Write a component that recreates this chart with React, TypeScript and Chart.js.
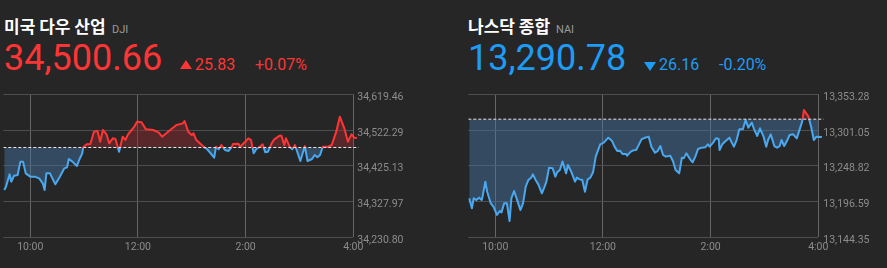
import React, { useEffect, useRef } from 'react';
import { Chart, registerables } from 'chart.js';

Chart.register(...registerables);

// ---------- data ----------
const SESSION_OPEN = '09:30';
const SESSION_CLOSE = '16:00';
const BASELINE_END = '16:06';

const X_TICK_TIMES = ['10:00', '12:00', '14:00', '16:00'];
const X_TICK_LABELS = ['10:00', '12:00', '2:00', '4:00'];

const DOW_NAME = '미국 다우 산업';
const DOW_CODE = 'DJI';
const DOW_PRICE = '34,500.66';
const DOW_CHANGE = '25.83';
const DOW_PCT = '+0.07%';
const DOW_PREV_CLOSE = 34474.83;
const DOW_Y_TICKS = [34230.8, 34327.97, 34425.13, 34522.29, 34619.46];
const DOW_TIMES = [
  '09:31', '09:33', '09:37', '09:39', '09:42', '09:46', '09:49', '09:52', '09:55', '10:00',
  '10:05', '10:10', '10:14', '10:16', '10:18', '10:22', '10:28', '10:33', '10:38', '10:41',
  '10:43', '10:47', '10:52', '10:55', '10:58', '10:59', '11:03', '11:07', '11:11', '11:15',
  '11:18', '11:21', '11:25', '11:28', '11:32', '11:35', '11:39', '11:43', '11:46', '11:49',
  '11:53', '11:56', '11:59', '12:04', '12:09', '12:17', '12:23', '12:27', '12:36', '12:43',
  '12:50', '12:52', '12:56', '13:00', '13:02', '13:05', '13:09', '13:14', '13:17', '13:22',
  '13:25', '13:27', '13:30', '13:33', '13:37', '13:41', '13:44', '13:46', '13:52', '13:54',
  '13:59', '14:03', '14:06', '14:09', '14:12', '14:16', '14:19', '14:22', '14:25', '14:29',
  '14:32', '14:38', '14:40', '14:43', '14:45', '14:49', '14:52', '14:55', '15:01', '15:03',
  '15:06', '15:09', '15:14', '15:17', '15:20', '15:23', '15:26', '15:32', '15:36', '15:41',
  '15:45', '15:50', '15:54', '15:58', '16:01', '16:04',
];
const DOW_VALUES = [
  34359.3, 34368.4, 34401.9, 34382.0, 34398.3, 34400.1, 34436.4, 34436.4, 34404.6, 34395.6,
  34395.6, 34391.1, 34377.5, 34359.3, 34404.6, 34404.6, 34374.8, 34395.6, 34418.2, 34421.0,
  34443.6, 34436.4, 34424.6, 34443.6, 34459.0, 34475.3, 34483.5, 34484.4, 34517.9, 34519.7,
  34490.7, 34522.4, 34510.7, 34486.2, 34499.8, 34498.0, 34463.5, 34504.3, 34495.3, 34510.7,
  34522.4, 34531.5, 34545.1, 34543.3, 34524.2, 34522.4, 34516.1, 34504.3, 34522.4, 34536.0,
  34540.5, 34546.9, 34517.9, 34508.8, 34513.4, 34495.3, 34486.2, 34475.3, 34470.8, 34456.3,
  34447.2, 34477.1, 34469.9, 34481.7, 34468.0, 34465.4, 34474.4, 34484.4, 34485.3, 34477.1,
  34488.9, 34499.8, 34495.3, 34459.0, 34470.8, 34477.1, 34483.5, 34461.7, 34463.5, 34486.2,
  34497.1, 34507.0, 34507.0, 34481.7, 34499.8, 34477.1, 34469.9, 34481.7, 34438.2, 34454.5,
  34478.9, 34438.2, 34443.6, 34454.5, 34448.2, 34454.5, 34477.1, 34477.1, 34481.7, 34517.9,
  34558.7, 34527.0, 34490.7, 34510.7, 34501.6, 34500.66,
];

const NAS_NAME = '나스닥 종합';
const NAS_CODE = 'NAI';
const NAS_PRICE = '13,290.78';
const NAS_CHANGE = '26.16';
const NAS_PCT = '-0.20%';
const NAS_PREV_CLOSE = 13316.94;
const NAS_Y_TICKS = [13144.35, 13196.59, 13248.82, 13301.05, 13353.28];
const NAS_TIMES = [
  '09:31', '09:34', '09:36', '09:39', '09:42', '09:45', '09:46', '09:49', '09:51', '09:55',
  '09:58', '10:02', '10:05', '10:07', '10:10', '10:13', '10:16', '10:18', '10:21', '10:25',
  '10:28', '10:31', '10:34', '10:37', '10:40', '10:42', '10:45', '10:48', '10:52', '10:55',
  '10:57', '11:00', '11:04', '11:07', '11:09', '11:12', '11:15', '11:19', '11:21', '11:25',
  '11:29', '11:31', '11:34', '11:37', '11:40', '11:43', '11:46', '11:49', '11:52', '11:57',
  '12:01', '12:06', '12:10', '12:13', '12:16', '12:19', '12:22', '12:26', '12:27', '12:31',
  '12:34', '12:37', '12:39', '12:43', '12:47', '12:51', '12:54', '12:58', '13:01', '13:04',
  '13:07', '13:10', '13:15', '13:18', '13:21', '13:25', '13:28', '13:30', '13:33', '13:37',
  '13:40', '13:43', '13:46', '13:50', '13:54', '13:57', '13:59', '14:03', '14:06', '14:09',
  '14:10', '14:13', '14:18', '14:21', '14:23', '14:26', '14:29', '14:32', '14:36', '14:39',
  '14:42', '14:46', '14:48', '14:52', '14:55', '14:59', '15:02', '15:04', '15:07', '15:11',
  '15:14', '15:17', '15:19', '15:22', '15:25', '15:28', '15:32', '15:36', '15:42', '15:44',
  '15:49', '15:52', '15:55', '15:58', '16:04',
];
const NAS_VALUES = [
  13201.3, 13186.7, 13201.3, 13198.9, 13202.3, 13198.9, 13204.7, 13225.6, 13211.0, 13194.0,
  13189.1, 13177.0, 13182.8, 13180.8, 13194.0, 13194.0, 13168.2, 13201.3, 13212.0, 13196.4,
  13184.2, 13194.0, 13218.3, 13228.1, 13231.5, 13236.3, 13228.1, 13221.7, 13208.6, 13218.3,
  13225.6, 13246.1, 13245.1, 13233.0, 13239.3, 13242.7, 13254.9, 13237.8, 13250.0, 13239.3,
  13225.6, 13231.5, 13229.0, 13228.1, 13211.0, 13229.0, 13231.5, 13239.3, 13262.2, 13280.2,
  13282.6, 13289.9, 13285.5, 13276.8, 13270.4, 13270.9, 13266.0, 13266.0, 13263.6, 13269.5,
  13271.4, 13271.9, 13276.8, 13287.5, 13289.9, 13291.4, 13276.8, 13268.0, 13270.4, 13277.7,
  13264.6, 13262.2, 13263.6, 13255.8, 13242.7, 13237.8, 13260.7, 13259.7, 13267.0, 13258.7,
  13253.9, 13262.2, 13273.4, 13275.3, 13275.8, 13280.2, 13276.8, 13283.1, 13289.0, 13288.0,
  13271.9, 13280.2, 13286.5, 13289.9, 13284.1, 13276.8, 13286.5, 13302.1, 13302.1, 13315.7,
  13304.5, 13311.8, 13303.6, 13292.4, 13303.6, 13291.4, 13276.8, 13286.5, 13294.8, 13277.7,
  13275.3, 13277.7, 13286.5, 13277.7, 13285.0, 13293.8, 13294.8, 13288.9, 13313.3, 13330.3,
  13320.6, 13306.0, 13286.5, 13291.4, 13290.78,
];

// ---------- styling ----------
const BG = '#262626';
const RED = '#ff3535';
const BLUE_TEXT = '#1e9cf5';
const LINE_BLUE = '#4aa8f0';
const FILL_BLUE = 'rgba(70,120,170,0.45)';
const FILL_RED = 'rgba(150,42,46,0.45)';
const TICK_COLOR = '#8c8c8c';
const NUM_FONT = 'Roboto, "Noto Sans", sans-serif';
const KR_FONT = '"Noto Sans CJK KR", "Noto Sans", sans-serif';

const toMin = (t: string) => {
  const [h, m] = t.split(':').map(Number);
  return h * 60 + m - (9 * 60 + 30);
};
const fmt2 = (v: number) =>
  v.toLocaleString('en-US', { minimumFractionDigits: 2, maximumFractionDigits: 2 });

type ChartProps = {
  times: string[];
  values: number[];
  prevClose: number;
  yTicks: number[];
  left: number;
  width: number;
  padLeft: number;
  plotRight: number;
  labelPad: number;
};

function MiniChart(p: ChartProps) {
  const ref = useRef<HTMLCanvasElement>(null);
  useEffect(() => {
    const canvas = ref.current;
    if (!canvas) return;
    const lineColor = (ctx: any) => {
      const chart = ctx.chart;
      const area = chart.chartArea;
      const ys = chart.scales && chart.scales.y;
      if (!area || !ys) return LINE_BLUE;
      const py = ys.getPixelForValue(p.prevClose);
      const t = Math.min(1, Math.max(0, (py - area.top) / (area.bottom - area.top)));
      const g = chart.ctx.createLinearGradient(0, area.top, 0, area.bottom);
      g.addColorStop(0, RED);
      g.addColorStop(t, RED);
      g.addColorStop(t, LINE_BLUE);
      g.addColorStop(1, LINE_BLUE);
      return g;
    };
    const clip = { left: 0, top: false, right: 10, bottom: false } as any;
    const chart = new Chart(canvas, {
      type: 'line',
      data: {
        datasets: [
          {
            data: [
              { x: toMin(SESSION_OPEN), y: p.prevClose },
              { x: toMin(BASELINE_END), y: p.prevClose },
            ],
            borderColor: '#e8e8e8',
            borderWidth: 1,
            borderDash: [3, 2],
            pointRadius: 0,
            fill: false,
            order: 0,
            clip,
          },
          {
            data: p.times.map((t, i) => ({ x: toMin(t), y: p.values[i] })),
            borderColor: lineColor,
            borderWidth: 2,
            pointRadius: 0,
            tension: 0,
            borderJoinStyle: 'round',
            fill: { target: { value: p.prevClose }, above: FILL_RED, below: FILL_BLUE },
            order: 1,
            clip,
          },
        ],
      } as any,
      options: {
        animation: false,
        responsive: false,
        devicePixelRatio: 1,
        events: [],
        layout: { padding: { left: p.padLeft, top: 9.3, right: 0, bottom: 0 } },
        plugins: { legend: { display: false }, tooltip: { enabled: false } },
        scales: {
          x: {
            type: 'linear',
            bounds: 'data',
            afterDataLimits: (a: any) => {
              a.min = toMin(SESSION_OPEN);
              a.max = toMin(SESSION_CLOSE);
            },
            afterBuildTicks: (a: any) => {
              a.ticks = X_TICK_TIMES.map((t) => ({ value: toMin(t) }));
            },
            afterFit: (a: any) => {
              a.height = 30.7;
              a.paddingLeft = 0;
              a.paddingRight = 0;
            },
            grid: { color: '#666666', drawTicks: false, lineWidth: 1 },
            border: { display: false },
            ticks: {
              color: TICK_COLOR,
              font: { family: NUM_FONT, size: 10.5 },
              padding: 4,
              maxRotation: 0,
              autoSkip: false,
              callback: (_v: any, i: number) => X_TICK_LABELS[i],
            },
          },
          y: {
            position: 'right',
            min: p.yTicks[0],
            max: p.yTicks[p.yTicks.length - 1],
            afterBuildTicks: (a: any) => {
              a.ticks = p.yTicks.map((v) => ({ value: v }));
            },
            afterFit: (a: any) => {
              a.width = p.width - p.plotRight;
              a.paddingTop = 0;
              a.paddingBottom = 0;
            },
            grid: { color: '#4e4e4e', drawTicks: false, lineWidth: 1 },
            border: { display: false },
            ticks: {
              color: TICK_COLOR,
              font: { family: NUM_FONT, size: 10.5 },
              padding: p.labelPad,
              labelOffset: 3,
              autoSkip: false,
              callback: (v: any) => fmt2(Number(v)),
            },
          },
        },
      } as any,
    });
    return () => chart.destroy();
  }, []);
  return (
    <canvas
      ref={ref}
      width={p.width}
      height={183}
      style={{ position: 'absolute', left: p.left, top: 85, width: p.width, height: 183 }}
    />
  );
}

type HeaderProps = {
  x: number;
  name: string;
  code: string;
  codeX: number;
  price: string;
  change: string;
  pct: string;
  up: boolean;
  triX: number;
  changeX: number;
  pctX: number;
};

function Header(h: HeaderProps) {
  const color = h.up ? RED : BLUE_TEXT;
  return (
    <>
      <div
        style={{
          position: 'absolute', left: h.x, top: 16, fontFamily: KR_FONT, fontWeight: 700,
          fontSize: 17, lineHeight: '20px', color: '#ffffff', whiteSpace: 'nowrap',
        }}
      >
        {h.name}
      </div>
      <div
        style={{
          position: 'absolute', left: h.codeX, top: 24, fontFamily: NUM_FONT, fontSize: 11,
          lineHeight: '11px', color: '#9a9a9a',
        }}
      >
        {h.code}
      </div>
      <div
        style={{
          position: 'absolute', left: h.x, top: 40.4, fontFamily: NUM_FONT, fontSize: 36,
          lineHeight: '36px', color, whiteSpace: 'nowrap',
        }}
      >
        {h.price}
      </div>
      <div
        style={{
          position: 'absolute', left: h.triX, top: h.up ? 60 : 61.5, width: 0, height: 0,
          borderLeft: '6px solid transparent', borderRight: '6px solid transparent',
          ...(h.up ? { borderBottom: `9px solid ${color}` } : { borderTop: `9px solid ${color}` }),
        }}
      />
      <div
        style={{
          position: 'absolute', left: h.changeX, top: 57.2, fontFamily: NUM_FONT, fontSize: 16,
          lineHeight: '16px', color, whiteSpace: 'nowrap',
        }}
      >
        {h.change}
      </div>
      <div
        style={{
          position: 'absolute', left: h.pctX, top: 57.2, fontFamily: NUM_FONT, fontSize: 16,
          lineHeight: '16px', color, whiteSpace: 'nowrap',
        }}
      >
        {h.pct}
      </div>
    </>
  );
}

export default function App() {
  return (
    <div
      style={{
        position: 'fixed', left: 0, top: 0, width: 887, height: 268, background: BG,
        overflow: 'hidden',
      }}
    >
      <Header
        x={4} name={DOW_NAME} code={DOW_CODE} codeX={112} price={DOW_PRICE}
        change={DOW_CHANGE} pct={DOW_PCT} up={true} triX={180} changeX={195} pctX={255}
      />
      <Header
        x={468} name={NAS_NAME} code={NAS_CODE} codeX={556} price={NAS_PRICE}
        change={NAS_CHANGE} pct={NAS_PCT} up={false} triX={644} changeX={659} pctX={719}
      />
      <MiniChart
        times={DOW_TIMES} values={DOW_VALUES} prevClose={DOW_PREV_CLOSE} yTicks={DOW_Y_TICKS}
        left={0} width={464} padLeft={3.3} plotRight={353.3} labelPad={4}
      />
      <MiniChart
        times={NAS_TIMES} values={NAS_VALUES} prevClose={NAS_PREV_CLOSE} yTicks={NAS_Y_TICKS}
        left={464} width={423} padLeft={4.3} plotRight={354.3} labelPad={5}
      />
    </div>
  );
}
